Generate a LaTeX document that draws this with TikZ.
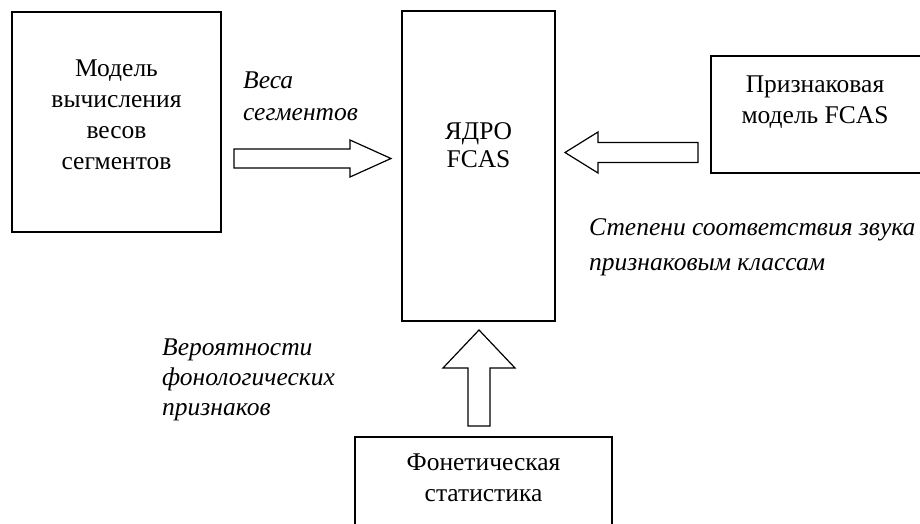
\documentclass[tikz,border=0pt]{standalone}
\usepackage{fontspec}
\setmainfont{Liberation Serif}
\usetikzlibrary{positioning,calc}

\begin{document}
\begin{tikzpicture}[x=1pt,y=-1pt,
	box/.style={draw,line width=1.4pt,inner sep=0pt},
	boxtext/.style={align=center,inner sep=0pt,font=\fontsize{25.5}{31}\selectfont},
	lbl/.style={anchor=north west,align=left,inner sep=0pt,font=\fontsize{25.5}{#1}\selectfont\itshape},
	arrowbox/.style={draw,line width=1.2pt,fill=white}]
	\useasboundingbox (0,0) rectangle (920,524);

	% boxes
	\node[box,minimum width=209pt,minimum height=220pt] (model) at (116.5,122) {};
	\node[box,minimum width=153pt,minimum height=310pt] (core) at (478.5,166) {};
	\node[box,minimum width=214pt,minimum height=117pt] (feat) at (818,114.5) {};
	\node[box,minimum width=257pt,minimum height=95pt] (stat) at (483.5,484.5) {};

	\node[boxtext,below=48pt of model.north] (modeltext) {Модель\\вычисления\\весов\\сегментов};
	\node[boxtext,below=112pt of core.north,font=\fontsize{25.5}{28}\selectfont] (coretext) {ЯДРО\\FCAS};
	\node[boxtext,below=20pt of feat.north,xshift=-3pt] (feattext) {Признаковая\\модель FCAS};
	\node[boxtext,below=17pt of stat.north] (stattext) {Фонетическая\\статистика};

	% labels
	\node[lbl=32] (wlabel) at (243,72) {Веса\\ сегментов};
	\node[lbl=35] (flabel) at (589,218) {Степени соответствия звука\\признаковым классам};
	\node[lbl=30] (plabel) at (162,339) {Вероятности\\фонологических\\признаков};

	% block arrows
	\coordinate (wtail) at (234,158.5);
	\coordinate (wtip) at (391,158.5);
	\coordinate (ftail) at (698,152.5);
	\coordinate (ftip) at (565,152.5);
	\coordinate (stail) at (479,426);
	\coordinate (stip) at (479,330);

	\draw[arrowbox] ($(wtail)+(0,-9.5)$) -- ($(wtip)+(-41,-9.5)$) -- ($(wtip)+(-41,-18.5)$) -- (wtip)
		-- ($(wtip)+(-41,18.5)$) -- ($(wtip)+(-41,9.5)$) -- ($(wtail)+(0,9.5)$) -- cycle;
	\draw[arrowbox] ($(ftail)+(0,-10)$) -- ($(ftip)+(33,-10)$) -- ($(ftip)+(33,-20.5)$) -- (ftip)
		-- ($(ftip)+(33,20.5)$) -- ($(ftip)+(33,10)$) -- ($(ftail)+(0,10)$) -- cycle;
	\draw[arrowbox] ($(stail)+(-11,0)$) -- ($(stip)+(-11,38)$) -- ($(stip)+(-36,38)$) -- (stip)
		-- ($(stip)+(36,38)$) -- ($(stip)+(11,38)$) -- ($(stail)+(11,0)$) -- cycle;
\end{tikzpicture}
\end{document}
